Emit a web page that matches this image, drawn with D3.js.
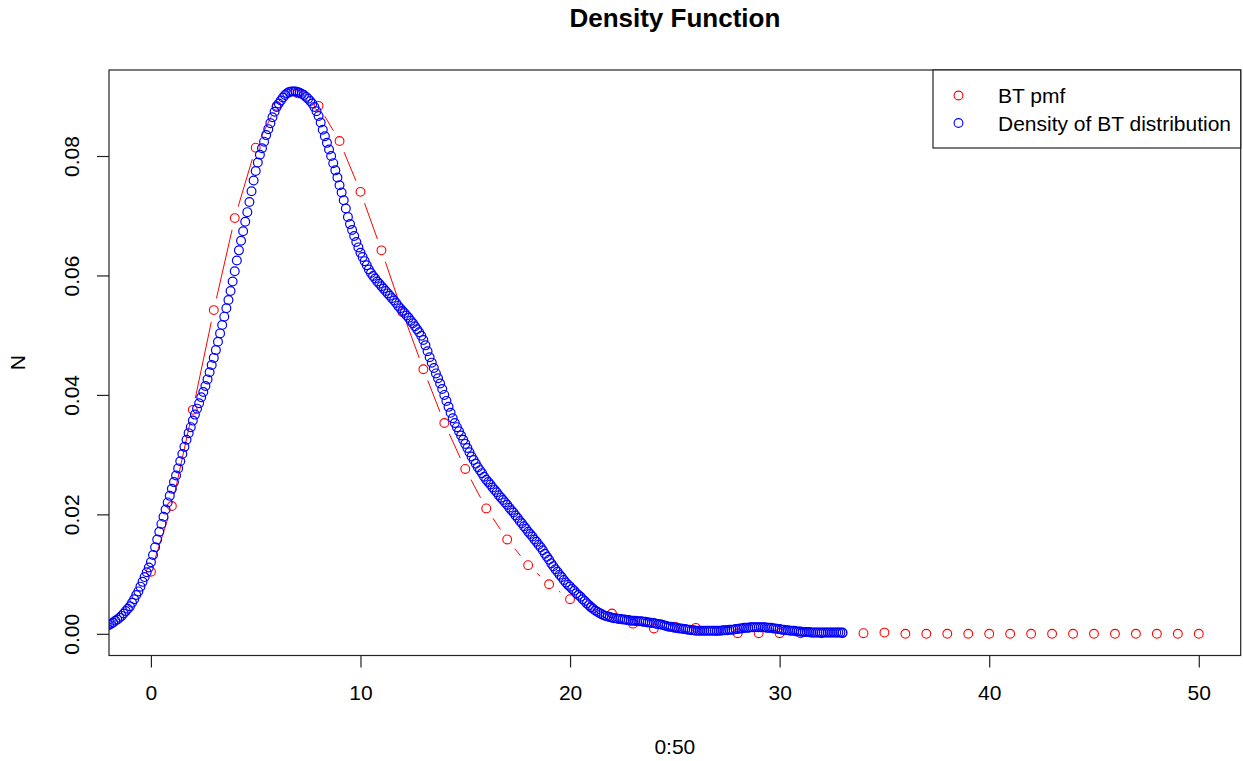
<!DOCTYPE html>
<html>
<head>
<meta charset="utf-8">
<script src="https://cdn.jsdelivr.net/npm/d3@7"></script>
<style>
  body { margin: 0; background: #fff; }
  svg text { font-family: "Liberation Sans", Arial, sans-serif; fill: #000; }
</style>
</head>
<body>
<div id="chart"></div>
<script>
// BT pmf at k = 0..50
const pmfX = d3.range(0, 51);
const pmfY = [
  0.0104, 0.0214, 0.0375, 0.0542, 0.0696, 0.0814, 0.0884, 0.0905, 0.0884, 0.0825,
  0.0740, 0.0642, 0.0539, 0.0443, 0.0353, 0.0276, 0.0210, 0.0158, 0.0115, 0.0083,
  0.0058, 0.0044, 0.0034, 0.0017, 0.0009, 0.0012, 0.0010, 0.0005, 0.0001, 0.0001,
  0.0001, 0.0001, 0.0001, 0.0001, 0.0001, 0.0002, 0.0000, 0.0000, 0.0000, 0.0000,
  0.0000, 0.0000, 0.0000, 0.0000, 0.0000, 0.0000, 0.0000, 0.0000, 0.0000, 0.0000,
  0.0000
];

// kernel density estimate, evaluated on a grid from -2.2 step 0.1
const densFrom = -2.2;
const densStep = 0.1;
const densY = [
  0.0011, 0.0013,
  0.0015, 0.0017, 0.0019, 0.0022, 0.0024, 0.0027, 0.0030, 0.0034, 0.0038, 0.0042,
  0.0046, 0.0052, 0.0058, 0.0065, 0.0071, 0.0079, 0.0087, 0.0095, 0.0103, 0.0111,
  0.0120, 0.0132, 0.0145, 0.0158, 0.0171, 0.0184, 0.0196, 0.0208, 0.0220, 0.0231,
  0.0243, 0.0254, 0.0265, 0.0277, 0.0289, 0.0301, 0.0313, 0.0325, 0.0336, 0.0346,
  0.0357, 0.0367, 0.0377, 0.0386, 0.0396, 0.0405, 0.0415, 0.0426, 0.0438, 0.0450,
  0.0462, 0.0475, 0.0489, 0.0503, 0.0517, 0.0531, 0.0545, 0.0559, 0.0574, 0.0590,
  0.0607, 0.0625, 0.0642, 0.0658, 0.0674, 0.0690, 0.0706, 0.0723, 0.0741, 0.0759,
  0.0775, 0.0789, 0.0802, 0.0813, 0.0824, 0.0835, 0.0845, 0.0855, 0.0865, 0.0874,
  0.0882, 0.0888, 0.0893, 0.0898, 0.0902, 0.0905, 0.0907, 0.0908, 0.0908, 0.0908,
  0.0907, 0.0906, 0.0904, 0.0902, 0.0899, 0.0896, 0.0892, 0.0888, 0.0882, 0.0875,
  0.0867, 0.0856, 0.0844, 0.0833, 0.0822, 0.0811, 0.0800, 0.0788, 0.0776, 0.0764,
  0.0751, 0.0739, 0.0726, 0.0712, 0.0698, 0.0686, 0.0676, 0.0666, 0.0656, 0.0647,
  0.0638, 0.0631, 0.0624, 0.0617, 0.0610, 0.0604, 0.0599, 0.0595, 0.0590, 0.0586,
  0.0582, 0.0578, 0.0574, 0.0570, 0.0566, 0.0562, 0.0558, 0.0554, 0.0549, 0.0545,
  0.0541, 0.0537, 0.0533, 0.0529, 0.0524, 0.0520, 0.0515, 0.0510, 0.0505, 0.0499,
  0.0492, 0.0483, 0.0473, 0.0463, 0.0454, 0.0445, 0.0436, 0.0428, 0.0419, 0.0410,
  0.0400, 0.0390, 0.0380, 0.0370, 0.0361, 0.0353, 0.0346, 0.0339, 0.0332, 0.0325,
  0.0318, 0.0311, 0.0304, 0.0297, 0.0291, 0.0285, 0.0279, 0.0274, 0.0269, 0.0263,
  0.0258, 0.0254, 0.0250, 0.0245, 0.0241, 0.0237, 0.0232, 0.0228, 0.0224, 0.0220,
  0.0216, 0.0211, 0.0207, 0.0203, 0.0198, 0.0194, 0.0189, 0.0185, 0.0180, 0.0176,
  0.0171, 0.0167, 0.0163, 0.0158, 0.0154, 0.0149, 0.0145, 0.0140, 0.0134, 0.0129,
  0.0124, 0.0118, 0.0113, 0.0108, 0.0104, 0.0099, 0.0095, 0.0090, 0.0086, 0.0082,
  0.0079, 0.0075, 0.0072, 0.0068, 0.0065, 0.0062, 0.0058, 0.0055, 0.0051, 0.0048,
  0.0045, 0.0042, 0.0039, 0.0037, 0.0035, 0.0033, 0.0031, 0.0030, 0.0029, 0.0028,
  0.0027, 0.0026, 0.0026, 0.0025, 0.0025, 0.0024, 0.0024, 0.0023, 0.0023, 0.0022,
  0.0022, 0.0022, 0.0021, 0.0021, 0.0021, 0.0020, 0.0020, 0.0019, 0.0019, 0.0018,
  0.0018, 0.0017, 0.0016, 0.0016, 0.0015, 0.0014, 0.0013, 0.0012, 0.0012, 0.0011,
  0.0010, 0.0010, 0.0009, 0.0009, 0.0008, 0.0008, 0.0007, 0.0007, 0.0006, 0.0006,
  0.0005, 0.0005, 0.0005, 0.0005, 0.0005, 0.0005, 0.0005, 0.0005, 0.0005, 0.0005,
  0.0005, 0.0005, 0.0005, 0.0006, 0.0006, 0.0006, 0.0007, 0.0007, 0.0007, 0.0008,
  0.0008, 0.0009, 0.0009, 0.0010, 0.0010, 0.0010, 0.0011, 0.0011, 0.0011, 0.0011,
  0.0011, 0.0011, 0.0011, 0.0011, 0.0010, 0.0010, 0.0010, 0.0009, 0.0009, 0.0008,
  0.0008, 0.0007, 0.0007, 0.0006, 0.0006, 0.0005, 0.0005, 0.0005, 0.0004, 0.0004,
  0.0004, 0.0003, 0.0003, 0.0003, 0.0003, 0.0002, 0.0002, 0.0002, 0.0002, 0.0002,
  0.0002, 0.0002, 0.0002, 0.0002, 0.0002, 0.0002, 0.0002, 0.0002, 0.0002, 0.0002,
  0.0002
];

const xTicks = [0, 10, 20, 30, 40, 50];
const yTicks = [0, 0.02, 0.04, 0.06, 0.08];
const legendLabels = ["BT pmf", "Density of BT distribution"];
const legendColors = ["red", "blue"];

const W = 1243, H = 761;
const plot = { left: 109, right: 1240.7, top: 70, bottom: 655.5 };

const svg = d3.select("#chart").append("svg")
  .attr("width", W).attr("height", H);

const x = d3.scaleLinear().domain([-2, 52]).range([plot.left, plot.right]);
const y = d3.scaleLinear().domain([-0.00363, 0.0944]).range([plot.bottom, plot.top]);

svg.append("clipPath").attr("id", "plotClip")
  .append("rect")
  .attr("x", plot.left).attr("y", plot.top)
  .attr("width", plot.right - plot.left).attr("height", plot.bottom - plot.top);

const pmf = pmfX.map((k, i) => ({ x: k, y: pmfY[i] }));
const dens = densY.map((v, i) => ({ x: densFrom + i * densStep, y: v }));

const marks = svg.append("g").attr("clip-path", "url(#plotClip)");

// type = "b": segments between points, leaving a gap around each circle
const gap = 12;
const segs = [];
for (let i = 0; i < pmf.length - 1; i++) {
  const x0 = x(pmf[i].x), y0 = y(pmf[i].y);
  const x1 = x(pmf[i + 1].x), y1 = y(pmf[i + 1].y);
  const len = Math.hypot(x1 - x0, y1 - y0);
  if (len <= 2 * gap) continue;
  const ux = (x1 - x0) / len, uy = (y1 - y0) / len;
  segs.push([x0 + ux * gap, y0 + uy * gap, x1 - ux * gap, y1 - uy * gap]);
}
marks.selectAll(".seg").data(segs).enter().append("line")
  .attr("class", "seg")
  .attr("x1", d => d[0]).attr("y1", d => d[1])
  .attr("x2", d => d[2]).attr("y2", d => d[3])
  .attr("stroke", "red").attr("stroke-width", 1);

marks.selectAll(".pmf").data(pmf).enter().append("circle")
  .attr("class", "pmf")
  .attr("cx", d => x(d.x)).attr("cy", d => y(d.y))
  .attr("r", 4.4)
  .attr("fill", "none").attr("stroke", "red").attr("stroke-width", 1.1);

marks.selectAll(".dens").data(dens).enter().append("circle")
  .attr("class", "dens")
  .attr("cx", d => x(d.x)).attr("cy", d => y(d.y))
  .attr("r", 4.4)
  .attr("fill", "none").attr("stroke", "blue").attr("stroke-width", 1.2);

// plot box
svg.append("rect")
  .attr("x", plot.left).attr("y", plot.top)
  .attr("width", plot.right - plot.left).attr("height", plot.bottom - plot.top)
  .attr("fill", "none").attr("stroke", "#222").attr("stroke-width", 1.2);

// axes
const xAxis = svg.append("g").attr("transform", `translate(0,${plot.bottom})`)
  .call(d3.axisBottom(x).tickValues(xTicks).tickSize(12).tickPadding(18).tickFormat(d3.format("d")));
const yAxis = svg.append("g").attr("transform", `translate(${plot.left},0)`)
  .call(d3.axisLeft(y).tickValues(yTicks).tickSize(12).tickPadding(0).tickFormat(d3.format(".2f")));

[xAxis, yAxis].forEach(g => {
  g.select(".domain").remove();
  g.selectAll(".tick line").attr("stroke", "#222").attr("stroke-width", 1.2);
  g.selectAll(".tick text").style("font-size", "21px").attr("fill", "#000");
});

yAxis.selectAll(".tick text")
  .attr("x", null).attr("dy", null)
  .attr("text-anchor", "middle")
  .attr("transform", "translate(-30,0) rotate(-90)");

// R draws the axis line from first to last tick
svg.append("line")
  .attr("x1", x(xTicks[0])).attr("x2", x(xTicks[xTicks.length - 1]))
  .attr("y1", plot.bottom).attr("y2", plot.bottom)
  .attr("stroke", "#222").attr("stroke-width", 1.2);

// titles
svg.append("text")
  .attr("x", (plot.left + plot.right) / 2).attr("y", 27)
  .attr("text-anchor", "middle")
  .style("font-size", "26px").style("font-weight", "bold")
  .text("Density Function");

svg.append("text")
  .attr("x", (plot.left + plot.right) / 2).attr("y", 754)
  .attr("text-anchor", "middle")
  .style("font-size", "21px")
  .text("0:50");

svg.append("text")
  .attr("transform", `translate(25,${(plot.top + plot.bottom) / 2}) rotate(-90)`)
  .attr("text-anchor", "middle")
  .style("font-size", "21px")
  .text("N");

// legend
const legend = svg.append("g");
legend.append("rect")
  .attr("x", 933).attr("y", plot.top)
  .attr("width", plot.right - 933).attr("height", 148 - plot.top)
  .attr("fill", "#fff").attr("stroke", "#222").attr("stroke-width", 1.2);

legendLabels.forEach((lab, i) => {
  const ly = 95.5 + i * 27.5;
  legend.append("circle")
    .attr("cx", 958.5).attr("cy", ly).attr("r", 4.4)
    .attr("fill", "none").attr("stroke", legendColors[i]).attr("stroke-width", 1.1);
  legend.append("text")
    .attr("x", 998).attr("y", ly + 7.5)
    .style("font-size", "21px")
    .text(lab);
});
</script>
</body>
</html>
